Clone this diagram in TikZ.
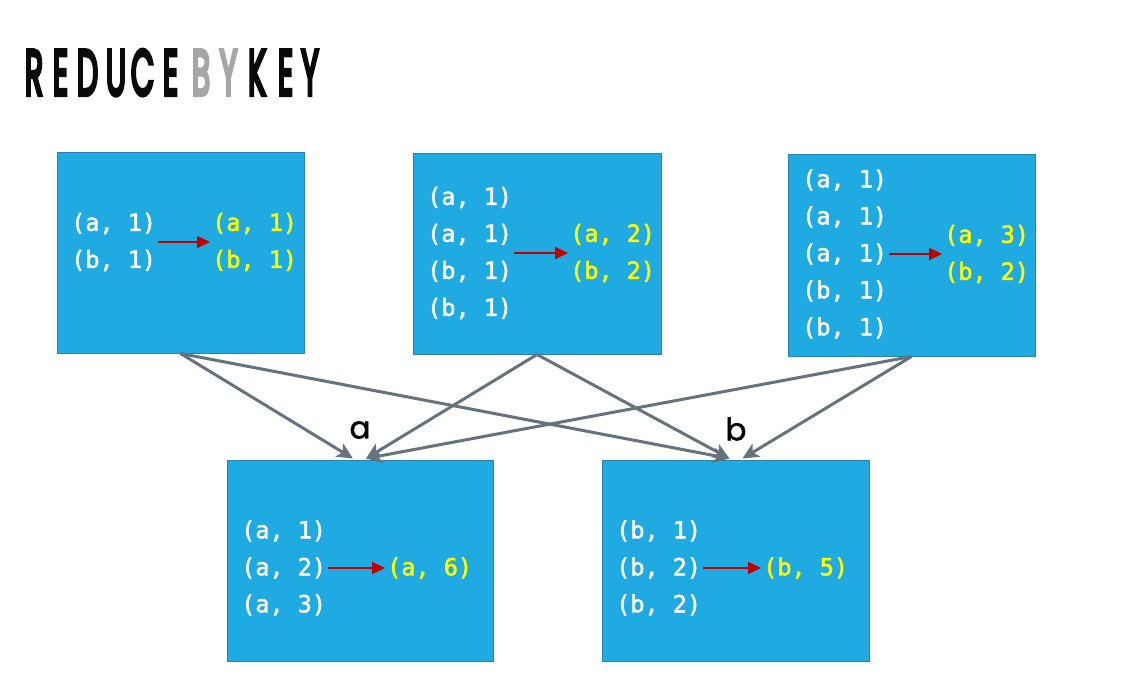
\documentclass[tikz,border=0pt]{standalone}
\usepackage{fontspec}
\usepackage{graphicx}
\usepackage{xcolor}
\usetikzlibrary{arrows.meta}

\newfontfamily\pairfont[FakeBold=2]{DejaVu Sans Mono}
\newfontfamily\keyfont[FakeBold=1.6]{Poppins}
\newfontfamily\titlefont[FakeBold=7]{Poppins}

\definecolor{boxblue}{HTML}{1FAAE1}
\definecolor{boxedge}{HTML}{2C82AC}
\definecolor{sumyellow}{HTML}{FFFF00}
\definecolor{reducered}{HTML}{C00000}
\definecolor{shufflegray}{HTML}{66737C}
\definecolor{titlegray}{HTML}{A6A6A6}
\definecolor{titleblack}{HTML}{0A0A0A}

\newcommand\narrowchar[1]{\scalebox{0.47}[1]{#1}}

\tikzset{
	titlechar/.style={anchor=base, inner sep=0pt, font=\titlefont\fontsize{64}{64}\selectfont},
	block/.style={draw=boxedge, fill=boxblue, line width=1pt, inner sep=0pt},
	pairs/.style={anchor=west, align=left, inner sep=2pt, text=white,
		font=\pairfont\fontsize{23.5}{37}\selectfont},
	sums/.style={pairs, text=sumyellow},
	reduce/.style={draw=reducered, line width=1.8pt, -{Triangle[length=13pt,width=12pt]}},
	shuffle/.style={draw=shufflegray, line width=3pt, -{Stealth[length=16pt,width=15pt,inset=4pt]}},
	keylabel/.style={inner sep=0pt, font=\keyfont\fontsize{31}{31}\selectfont}
}

\begin{document}
\begin{tikzpicture}[x=1pt,y=-1pt]
	\useasboundingbox (0,0) rectangle (1145,685);

	% title, one letter at a time
	\foreach \ch/\cx/\col [count=\i] in {R/34/titleblack, E/60.5/titleblack, D/87.5/titleblack,
		U/116/titleblack, C/142.5/titleblack, E/170.5/titleblack, B/201/titlegray,
		Y/228.5/titlegray, K/257/titleblack, E/285.5/titleblack, Y/310/titleblack}
		\node[titlechar, text=\col] (t\i) at (\cx,95) {\narrowchar{\ch}};

	% map side
	\node[block, minimum width=247pt, minimum height=201pt] (m1) at (180.5,252.5) {};
	\node[block, minimum width=248pt, minimum height=201pt] (m2) at (537,253.5) {};
	\node[block, minimum width=247pt, minimum height=202pt] (m3) at (911.5,255) {};

	% reduce side
	\node[block, minimum width=266pt, minimum height=201pt] (r1) at (360,560.5) {};
	\node[block, minimum width=267pt, minimum height=201pt] (r2) at (735.5,560.5) {};

	\node[pairs] (p1) at (69,242) {(a, 1)\\(b, 1)};
	\node[sums] (s1) at (210,242) {(a, 1)\\(b, 1)};
	\draw[reduce] (p1) -- (s1);

	\node[pairs] (p2) at (425,253) {(a, 1)\\(a, 1)\\(b, 1)\\(b, 1)};
	\node[sums] (s2) at (568,253) {(a, 2)\\(b, 2)};
	\draw[reduce] (p2) -- (s2);

	\node[pairs] (p3) at (800,254) {(a, 1)\\(a, 1)\\(a, 1)\\(b, 1)\\(b, 1)};
	\node[sums] (s3) at (942,254) {(a, 3)\\(b, 2)};
	\draw[reduce] (p3) -- (s3);

	\node[pairs] (p4) at (239,568) {(a, 1)\\(a, 2)\\(a, 3)};
	\node[sums] (s4) at (385,568) {(a, 6)};
	\draw[reduce] (p4) -- (s4);

	\node[pairs] (p5) at (614,568) {(b, 1)\\(b, 2)\\(b, 2)};
	\node[sums] (s5) at (761,568) {(b, 5)};
	\draw[reduce] (p5) -- (s5);

	% shuffle
	\coordinate (a1) at ([xshift=-7pt,yshift=1pt]r1.north);
	\coordinate (a2) at ([xshift=6pt,yshift=1pt]r1.north);
	\coordinate (b1) at ([xshift=-6pt,yshift=1pt]r2.north);
	\coordinate (b2) at ([xshift=7pt,yshift=1pt]r2.north);

	\draw[shuffle] (m1.south) -- (a1);
	\draw[shuffle] (m1.south) -- (b1);
	\draw[shuffle] (m2.south) -- (a2);
	\draw[shuffle] (m2.south) -- (b1);
	\draw[shuffle] (m3.south) -- (a2);
	\draw[shuffle] (m3.south) -- (b2);

	\node[keylabel] (ka) at (360,430) {a};
	\node[keylabel] (kb) at (736,429) {b};
\end{tikzpicture}
\end{document}
